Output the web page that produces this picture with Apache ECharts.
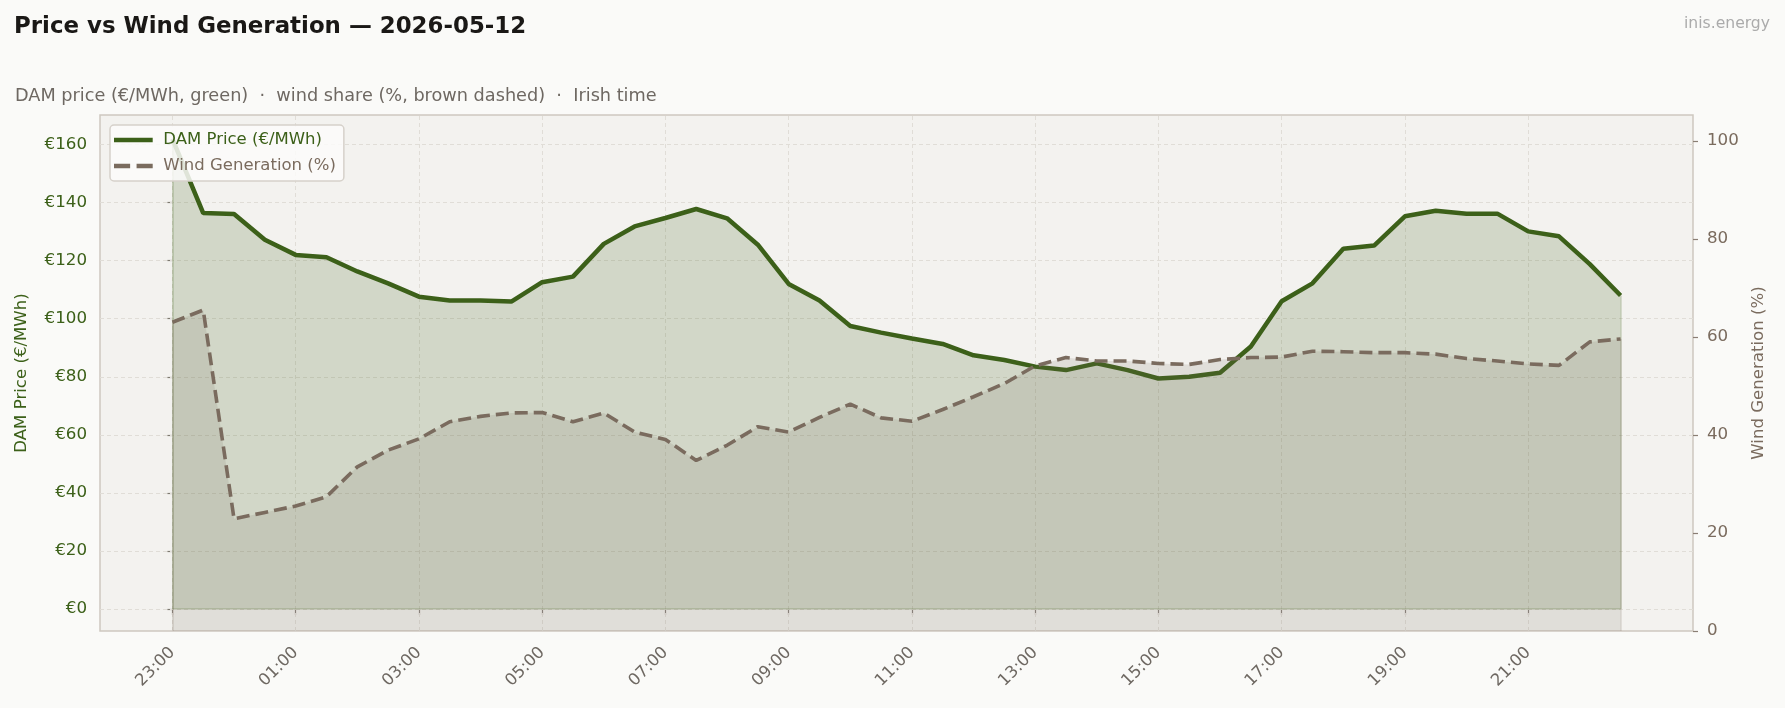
<!DOCTYPE html>
<html>
<head>
<meta charset="utf-8">
<title>Price vs Wind Generation</title>
<script src="https://cdn.jsdelivr.net/npm/echarts@6/dist/echarts.min.js"></script>
<style>
html, body { margin: 0; padding: 0; background: #FAFAF8; }
#main { width: 1785px; height: 708px; }
</style>
</head>
<body>
<div id="main"></div>
<script>
/*------------ data ------------*/
// half-hourly slots, Irish time, starting 23:00 the evening before
var slots = ['23:00','23:30','00:00','00:30','01:00','01:30','02:00','02:30','03:00','03:30','04:00','04:30',
	'05:00','05:30','06:00','06:30','07:00','07:30','08:00','08:30','09:00','09:30','10:00','10:30',
	'11:00','11:30','12:00','12:30','13:00','13:30','14:00','14:30','15:00','15:30','16:00','16:30',
	'17:00','17:30','18:00','18:30','19:00','19:30','20:00','20:30','21:00','21:30','22:00','22:30'];

// DAM price, EUR/MWh
var price = [162, 136.4, 136.1, 127.2, 122.0, 121.2, 116.3, 112.2, 107.6, 106.3, 106.3, 105.9,
	112.6, 114.5, 125.8, 131.8, 134.7, 137.8, 134.6, 125.5, 112.0, 106.3, 97.5, 95.2,
	93.2, 91.3, 87.4, 85.8, 83.5, 82.3, 84.6, 82.3, 79.4, 80.0, 81.4, 90.4,
	106.0, 112.2, 124.1, 125.2, 135.3, 137.2, 136.2, 136.2, 130.1, 128.4, 118.8, 108.0];

// wind share of generation, %
var wind = [63.0, 65.5, 22.9, 24.2, 25.5, 27.4, 33.5, 36.9, 39.2, 42.7, 43.8, 44.5,
	44.6, 42.7, 44.5, 40.6, 39.1, 34.8, 37.9, 41.7, 40.6, 43.6, 46.3, 43.5,
	42.8, 45.2, 47.8, 50.5, 54.1, 55.8, 55.1, 55.1, 54.6, 54.4, 55.4, 55.8,
	55.9, 57.1, 57.0, 56.8, 56.8, 56.5, 55.6, 55.1, 54.5, 54.2, 59.0, 59.6];

// axis ticks
var xTickLabels = ['23:00','01:00','03:00','05:00','07:00','09:00','11:00','13:00','15:00','17:00','19:00','21:00'];
var priceTicks = [0, 20, 40, 60, 80, 100, 120, 140, 160];
var windTicks = [0, 20, 40, 60, 80, 100];

/*------------ helpers ------------*/
// x axis is hours since 23:00
function slotHour(i) { return i * 0.5; }
var xTicks = xTickLabels.map(function (t) { return slots.indexOf(t) * 0.5; });
var lastX = slotHour(slots.length - 1);

function pairs(values) {
	return values.map(function (v, i) { return [slotHour(i), v]; });
}

var FONT = 'DejaVu Sans';
var GREEN = '#3C6019';
var BROWN = '#7A6B5E';
var GRID_LINE = { color: '#E0DDD7', width: 1, type: [4, 3] };

var gridLines = [];
xTicks.forEach(function (v) { gridLines.push({ xAxis: v }); });
priceTicks.forEach(function (v) { gridLines.push({ yAxis: v }); });

// faint outline of the filled areas (matplotlib draws the polygon edge)
var priceEdges = [
	[{ coord: [0, 0] }, { coord: [lastX, 0] }],
	[{ coord: [0, 0] }, { coord: [0, price[0]] }],
	[{ coord: [lastX, 0] }, { coord: [lastX, price[price.length - 1]] }]
];
var windEdges = [
	[{ coord: [0, 0] }, { coord: [0, wind[0]] }],
	[{ coord: [lastX, 0] }, { coord: [lastX, wind[wind.length - 1]] }]
];

/*------------ chart ------------*/
var chart = echarts.init(document.getElementById('main'), null, { renderer: 'canvas' });
chart.setOption({
	backgroundColor: '#FAFAF8',
	animation: false,
	textStyle: { fontFamily: FONT },
	title: [{
		text: 'Price vs Wind Generation \u2014 2026-05-12',
		left: 9, top: 11,
		textStyle: { fontFamily: FONT, fontSize: 22.9, fontWeight: 'bold', color: '#1A1816' }
	}, {
		text: 'DAM price (\u20ac/MWh, green)  \u00b7  wind share (%, brown dashed)  \u00b7  Irish time',
		left: 10, top: 82,
		textStyle: { fontFamily: FONT, fontSize: 17.7, fontWeight: 'normal', color: '#6E6862' }
	}, {
		text: 'inis.energy',
		right: 10, top: 11,
		textStyle: { fontFamily: FONT, fontSize: 15.6, fontWeight: 'normal', color: '#ABABAB' }
	}],
	legend: {
		orient: 'vertical',
		left: 110, top: 125,
		padding: [5, 8, 5, 4],
		itemWidth: 38.7, itemHeight: 4.7, itemGap: 6,
		symbolKeepAspect: false,
		backgroundColor: 'rgba(252,252,250,0.85)',
		borderColor: '#D6D1CA', borderWidth: 1.5, borderRadius: 4,
		itemStyle: { borderWidth: 0 },
		textStyle: { fontFamily: FONT, fontSize: 16.5, lineHeight: 20, padding: [0, 0, 0, 5.6] },
		data: [
			{ name: 'DAM Price (\u20ac/MWh)', icon: 'rect', textStyle: { color: GREEN } },
			{ name: 'Wind Generation (%)', icon: 'path://M0,0h15v4h-15z M21,0h15v4h-15z', textStyle: { color: BROWN } }
		]
	},
	grid: {
		show: true,
		left: 100, right: 92, top: 115, bottom: 77,
		backgroundColor: '#F3F2EF',
		borderColor: '#CEC8C0', borderWidth: 1.5
	},
	xAxis: {
		type: 'value',
		min: -1.175, max: 24.675,
		axisLine: { show: false },
		splitLine: { show: false },
		axisTick: { show: true, customValues: xTicks, length: 6, lineStyle: { color: '#8A847E', width: 1.2 } },
		axisLabel: {
			customValues: xTicks,
			rotate: 45, margin: 19,
			fontFamily: FONT, fontSize: 16.5, color: '#6E6862',
			formatter: function (v) { return slots[Math.round(v * 2)]; }
		}
	},
	yAxis: [{
		type: 'value',
		position: 'left',
		min: -7.6, max: 170.2,
		name: 'DAM Price (\u20ac/MWh)',
		nameLocation: 'middle', nameGap: 70,
		nameTextStyle: { fontFamily: FONT, fontSize: 16.6, color: GREEN },
		axisLine: { show: false },
		splitLine: { show: false },
		axisTick: { show: true, customValues: priceTicks, length: 5, lineStyle: { color: '#7E7A70', width: 1.2 } },
		axisLabel: {
			customValues: priceTicks, margin: 13,
			fontFamily: FONT, fontSize: 16.7, color: GREEN,
			formatter: function (v) { return '\u20ac' + v; }
		}
	}, {
		type: 'value',
		position: 'right',
		min: 0, max: 105.3,
		name: 'Wind Generation (%)',
		nameLocation: 'middle', nameGap: 55,
		nameTextStyle: { fontFamily: FONT, fontSize: 16.6, color: BROWN },
		axisLine: { show: false },
		splitLine: { show: false },
		axisTick: { show: true, customValues: windTicks, length: 5, lineStyle: { color: '#8A7E74', width: 1.2 } },
		axisLabel: {
			customValues: windTicks, margin: 14,
			fontFamily: FONT, fontSize: 16.7, color: BROWN
		}
	}],
	series: [{
		// grid lines only, kept under the filled areas
		type: 'line',
		data: [],
		silent: true,
		z: 1,
		markLine: {
			z: 1,
			silent: true,
			symbol: 'none',
			label: { show: false },
			lineStyle: GRID_LINE,
			data: gridLines
		}
	}, {
		name: 'DAM Price (\u20ac/MWh)',
		type: 'line',
		yAxisIndex: 0,
		data: pairs(price),
		symbol: 'none',
		z: 3,
		lineStyle: { color: GREEN, width: 4.5 },
		itemStyle: { color: GREEN },
		areaStyle: { color: 'rgba(61,97,23,0.18)', opacity: 1, origin: 'auto' },
		markLine: {
			z: 2,
			silent: true,
			symbol: 'none',
			label: { show: false },
			lineStyle: { color: 'rgba(61,97,23,0.22)', width: 1.5, type: 'solid' },
			data: priceEdges
		}
	}, {
		name: 'Wind Generation (%)',
		type: 'line',
		yAxisIndex: 1,
		data: pairs(wind),
		symbol: 'none',
		z: 4,
		lineStyle: { color: BROWN, width: 3.6, type: [13, 6] },
		itemStyle: { color: BROWN },
		areaStyle: { color: 'rgba(122,106,92,0.15)', opacity: 1, origin: 'auto' },
		markLine: {
			z: 2,
			silent: true,
			symbol: 'none',
			label: { show: false },
			lineStyle: { color: 'rgba(122,106,92,0.2)', width: 1.5, type: 'solid' },
			data: windEdges
		}
	}]
});
</script>
</body>
</html>
